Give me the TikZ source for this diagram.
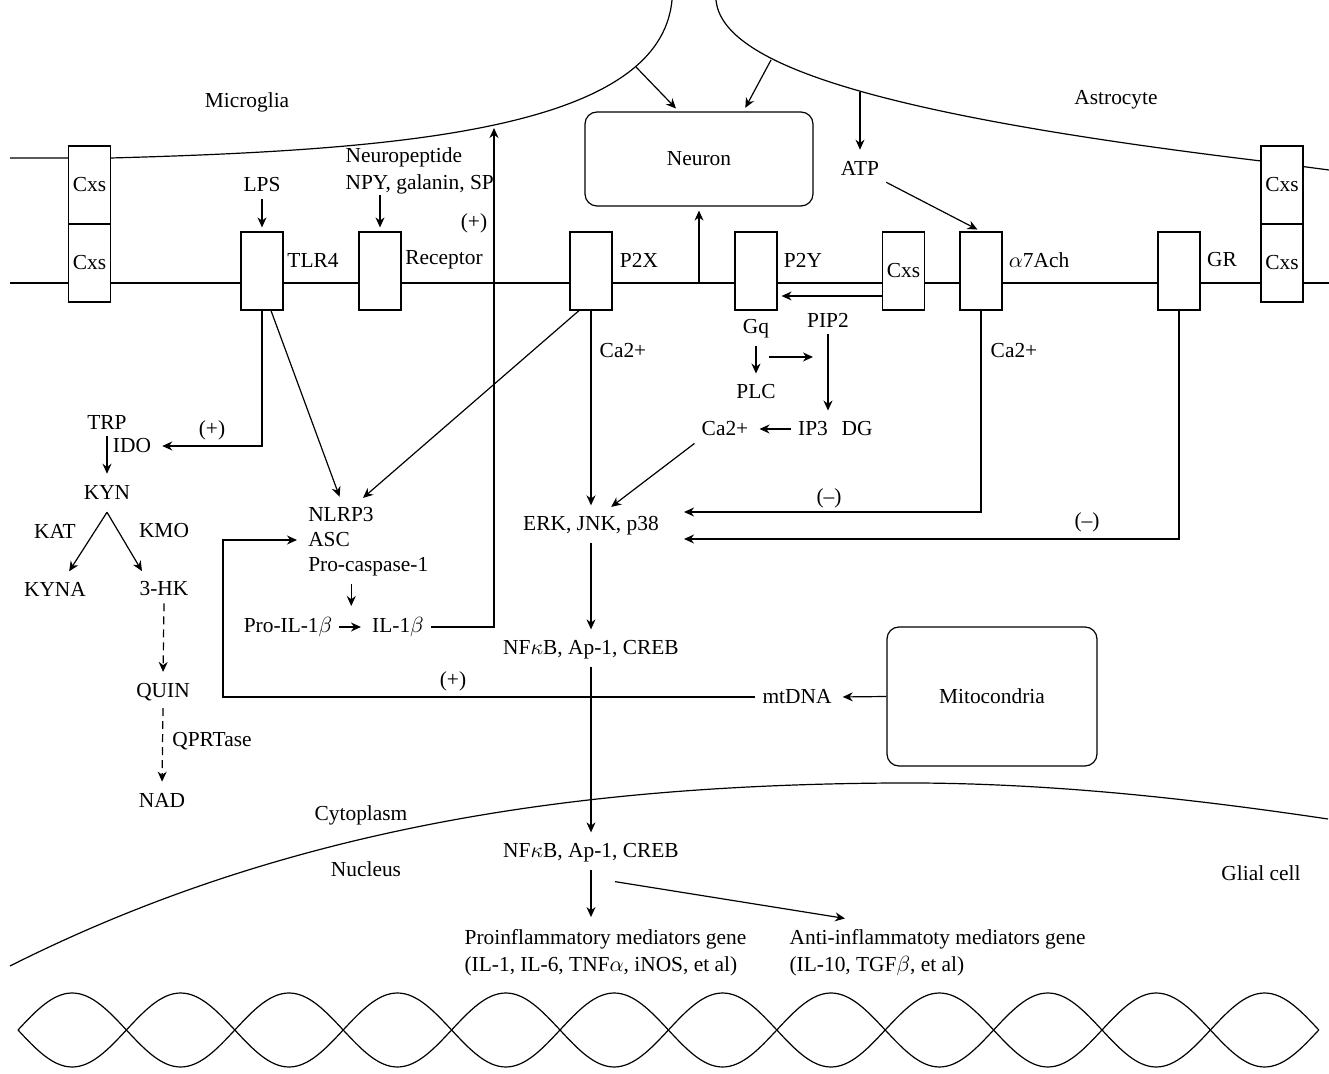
\documentclass[tikz,border=0pt]{standalone}
\usepackage{fontspec}
\setmainfont{Liberation Serif}
\usetikzlibrary{arrows.meta}

\begin{document}
\begin{tikzpicture}[x=0.5pt, y=-0.5pt, line width=0.6pt,
    every node/.style={font=\fontsize{10.7}{13.5}\selectfont},
    channel/.style={draw, fill=white, minimum width=21pt, minimum height=39pt, inner sep=0pt},
    organelle/.style={draw, rounded corners=6pt, inner sep=0pt},
    arr/.style={-{Stealth[length=5pt, width=4.5pt]}, shorten >=2pt},
    darr/.style={arr, dash pattern=on 4pt off 2.5pt}]
                \useasboundingbox (0,0) rectangle (1329,1074);

                % Draw cell borders
                \draw (10,158) -- (111,158) .. controls (400,150) and (660,130) .. (672,0);
                \draw (716,0) .. controls (722,65) and (880,115) .. (1261,161) -- (1329,170);
                \draw (10,283) -- (1329,283);

                % Draw nucleus border and DNA
                \draw (10,966) .. controls (300,820) and (600,785) .. (893,783) .. controls (1050,782) and (1200,800) .. (1328,819);
                \foreach \i in {0,...,11} {
                    \draw (18+108.4*\i,1030) sin ++(54.2,-37) cos ++(54.2,37);
                    \draw (18+108.4*\i,1030) sin ++(54.2,37) cos ++(54.2,-37);
                }

                % Draw points on the borders
                \coordinate (mgA) at (636,67);
                \coordinate (mgB) at (494,124);
                \coordinate (asA) at (771,60);
                \coordinate (asB) at (860,92);
                \coordinate (nb) at (699,283);
                \coordinate (bend) at (223,697);
                \coordinate (gqA) at (769,357);
                \coordinate (gqB) at (817,357);

                % Draw membrane channels
                \node[channel] (cxsA) at (89.5,185) {Cxs};
                \node[channel] (cxsB) at (89.5,263) {Cxs};
                \node[channel] (tlr4) at (262,271) {};
                \node[channel] (rec) at (380,271) {};
                \node[channel] (p2x) at (591,271) {};
                \node[channel] (p2y) at (756,271) {};
                \node[channel] (cxsM) at (903.5,271) {Cxs};
                \node[channel] (a7) at (981,271) {};
                \node[channel] (gr) at (1179,271) {};
                \node[channel] (cxsC) at (1282,185) {Cxs};
                \node[channel] (cxsD) at (1282,263) {Cxs};

                % Draw neuron and mitocondria
                \node[organelle, minimum width=114pt, minimum height=47pt] (neuron) at (699,159) {Neuron};
                \node[organelle, minimum width=105pt, minimum height=69.5pt] (mito) at (992,696.5) {Mitocondria};

                % Draw labels on the membrane
                \node (microglia) at (247,102) {Microglia};
                \node (astro) at (1116,100) {Astrocyte};
                \node (lps) at (262,185) {LPS};
                \node[align=left, anchor=west, inner sep=0pt] (np) at (345,171) {Neuropeptide\\NPY, galanin, SP};
                \node (tlr4l) at (313,260) {TLR4};
                \node (recl) at (444,260) {Receptor};
                \node (p2xl) at (639,260) {P2X};
                \node (p2yl) at (803,260) {P2Y};
                \node (a7l) at (1039,260) {$\alpha$7Ach};
                \node (grl) at (1222,260) {GR};
                \node (plusA) at (474,223) {(+)};
                \node (atp) at (860,168) {ATP};

                % Draw P2Y and Ca2+ pathway
                \node (caA) at (623,351) {Ca2+};
                \node (caB) at (1014,351) {Ca2+};
                \node (gq) at (756,329) {Gq};
                \node (pip2) at (828,320) {PIP2};
                \node (plc) at (756,392) {PLC};
                \node (ip3) at (813,429) {IP3};
                \node (dg) at (857,429) {DG};
                \node (caC) at (725,429) {Ca2+};
                \node (erk) at (591,526) {ERK, JNK, p38};
                \node (minusA) at (829,498) {(--)};
                \node (minusB) at (1087,522) {(--)};

                % Draw kynurenine pathway
                \node (trp) at (107,422) {TRP};
                \node (ido) at (132,446) {IDO};
                \node (plusB) at (212,430) {(+)};
                \node (kyn) at (107,492) {KYN};
                \node (kat) at (55,531) {KAT};
                \node (kmo) at (164,531) {KMO};
                \node (kyna) at (55,589) {KYNA};
                \node (hk) at (164,589) {3-HK};
                \node (quin) at (163,692) {QUIN};
                \node (qprt) at (212,741) {QPRTase};
                \node (nad) at (162,800) {NAD};

                % Draw inflammasome
                \node[anchor=west] (nlrp) at (301,515) {NLRP3};
                \node[anchor=west] (asc) at (301,540) {ASC};
                \node[anchor=west] (procasp) at (301,567) {Pro-caspase-1};
                \node (pil) at (288,627) {Pro-IL-1$\beta$};
                \node (il) at (398,627) {IL-1$\beta$};
                \node (plusC) at (453,681) {(+)};
                \node (mtdna) at (797,697) {mtDNA};

                % Draw nucleus labels
                \node (nfkbA) at (591,650) {NF$\kappa$B, Ap-1, CREB};
                \node (cyto) at (361,815) {Cytoplasm};
                \node (nucl) at (366,869) {Nucleus};
                \node (glial) at (1261,873) {Glial cell};
                \node (nfkbB) at (591,853) {NF$\kappa$B, Ap-1, CREB};
                \node[align=left, anchor=west, inner sep=0pt] (pro) at (464,953) {Proinflammatory mediators gene\\(IL-1, IL-6, TNF$\alpha$, iNOS, et al)};
                \node[align=left, anchor=west, inner sep=0pt] (anti) at (789,953) {Anti-inflammatoty mediators gene\\(IL-10, TGF$\beta$, et al)};

                % Draw edges to the neuron
                \draw[arr] (mgA) -- (neuron.113);
                \draw[arr] (asA) -- (neuron.47);
                \draw[arr] (nb) -- (neuron.south);
                \draw[arr] (asB) -- (atp.north);
                \draw[arr] (atp.south east) -- (a7.north);
                \draw[arr] ([yshift=-12.5pt]cxsM.west) -- ([yshift=-12.5pt]p2y.east);

                % Draw edges from the receptors
                \draw[arr] (lps.south) -- (tlr4.north);
                \draw[arr] (np.south -| rec.north) -- (rec.north);
                \draw[arr] (tlr4.south) |- (ido.east);
                \draw[arr] ([xshift=4.5pt]tlr4.south) -- (nlrp.north);
                \draw[arr] ([xshift=-6pt]p2x.south) -- ([xshift=9.5pt]nlrp.north);
                \draw[arr] (p2x.south) -- (erk.north);
                \draw[arr] (gq.south) -- (plc.north);
                \draw[arr] (gqA) -- (gqB);
                \draw[arr] (pip2.south) -- (pip2.south |- ip3.north);
                \draw[arr] (ip3.west) -- (caC.east);
                \draw[arr] (caC.south west) -- ([xshift=8.5pt]erk.north);
                \draw[arr] (a7.south) |- ([xshift=7pt, yshift=7pt]erk.east);
                \draw[arr] (gr.south) |- ([xshift=7pt, yshift=-6.5pt]erk.east);

                % Draw kynurenine edges
                \draw[arr] (trp.south) -- (kyn.north);
                \draw[arr] ([yshift=-3pt]kyn.south) -- ([xshift=6pt]kyna.north);
                \draw[arr] ([yshift=-3pt]kyn.south) -- ([xshift=-10pt]hk.north);
                \draw[darr] (hk.south) -- (quin.north);
                \draw[darr] (quin.south) -- (nad.north);

                % Draw inflammasome edges
                \draw[arr] ([xshift=-8.5pt]procasp.south) -- ([xshift=-8.5pt]procasp.south |- pil.north);
                \draw[arr] (pil.east) -- (il.west);
                \draw[arr] (il.east) -| (mgB);
                \draw[arr] (mito.west) -- (mtdna.east);
                \draw[arr] (mtdna.west) -- (bend) |- (asc.west);

                % Draw edges to the nucleus
                \draw[arr] (erk.south) -- (nfkbA.north);
                \draw[arr] (nfkbA.south) -- (nfkbB.north);
                \draw[arr] (nfkbB.south) -- ([yshift=4pt]nfkbB.south |- pro.north);
                \draw[arr] ([xshift=12pt, yshift=-6pt]nfkbB.south) -- ([xshift=30pt, yshift=5pt]anti.north west);

            \end{tikzpicture}
\end{document}
